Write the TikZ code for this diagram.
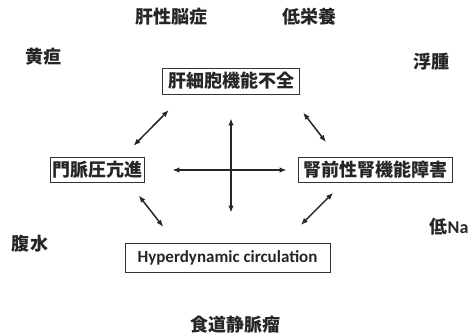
\documentclass[tikz,border=0pt]{standalone}
\usepackage{fontspec}
\setmainfont{Noto Sans CJK JP}
\newfontfamily\latinfont{Carlito}
\usetikzlibrary{arrows.meta,positioning}

\begin{document}
\begin{tikzpicture}[x=1pt,y=1pt,>={Latex[length=7pt,width=5.5pt]},
box/.style={draw=black!80,line width=0.8pt,inner sep=0pt,minimum height=25pt,
text=black!85,font=\bfseries\fontsize{18}{20}\selectfont},
lbl/.style={text=black!85,font=\bfseries\fontsize{18}{20}\selectfont},
link/.style={<->,line width=1.5pt,black!85}]
\useasboundingbox (0,0) rectangle (470,333);
% the four boxes
\node[box,minimum width=137pt,minimum height=26pt] (liver) at (231,252) {肝細胞機能不全};
\node[box,minimum width=94pt] (portal) at (97,163) {門脈圧亢進};
\node[box,minimum width=154pt] (renal) at (375,163) {腎前性腎機能障害};
\node[box,minimum width=205pt,minimum height=29pt,font=\latinfont\bfseries\fontsize{17}{19}\selectfont]
  (hyper) at (227.5,75.5) {Hyperdynamic circulation};
% symptoms
\node[lbl] (enceph) at (171,316) {肝性脳症};
\node[lbl] (malnut) at (309,316) {低栄養};
\node[lbl] (jaund) at (43,276) {黄疸};
\node[lbl] (edema) at (431,271) {浮腫};
\node[lbl] (ascites) at (30,89) {腹水};
\node[lbl] (hypona) at (449,106) {低{\latinfont Na}};
\node[lbl] (varix) at (235,8) {食道静脈瘤};
% arrows
\draw[link,shorten <=16pt,shorten >=22pt] (portal.27)--(liver.196);
\draw[link,shorten <=23pt,shorten >=19pt] (liver.347)--(renal.161);
\draw[link,shorten <=16pt,shorten >=20pt] (portal.338)--(hyper.164);
\draw[link,shorten <=14pt,shorten >=25pt] (renal.202)--(hyper.15);
\draw[link,shorten <=28pt,shorten >=11pt] (portal.east)--(renal.west);
\draw[link,shorten <=24pt,shorten >=30pt] (liver.south)--(liver.south |- hyper.north);
\end{tikzpicture}
\end{document}
